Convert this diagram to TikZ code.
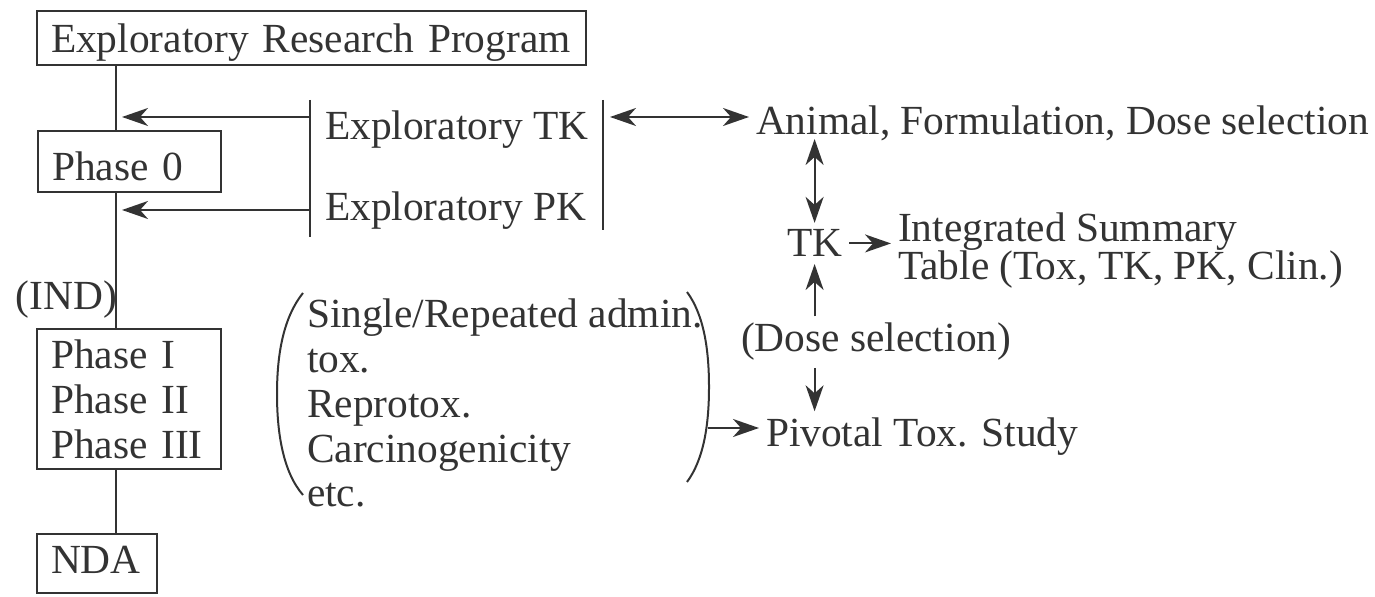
\documentclass[tikz,border=0pt]{standalone}
\usepackage{fontspec}
\setmainfont{Liberation Serif}
\usetikzlibrary{arrows.meta}
\definecolor{ink}{HTML}{333333}

\begin{document}
\begin{tikzpicture}[x=0.5pt,y=-0.5pt,line width=1pt,color=ink,
    font=\fontsize{20.7pt}{22.5pt}\selectfont,
    box/.style={draw,anchor=north west,inner xsep=7pt,inner ysep=0pt,align=left},
    txt/.style={anchor=base west,inner sep=3pt,align=left},
    arr/.style={-{Stealth[length=13pt,width=9pt,inset=4pt]}},
    dbl/.style={{Stealth[length=13pt,width=9pt,inset=4pt]}-{Stealth[length=13pt,width=9pt,inset=4pt]}}]
    \useasboundingbox (0,0) rectangle (1375,597);

    % Left column
    \coordinate (spine) at (116,0);
    \node[box,text width=260.5pt,text height=21pt,text depth=6pt] (erp) at (36,10) {Exploratory Research Program};
    \node[box,text width=77.5pt,text height=25pt,text depth=5.5pt] (ph0) at (37,130) {Phase 0};
    \node[txt] (ind) at (9,310) {(IND)};
    \node[box,text width=78pt,minimum height=70pt] (phases) at (36,328) {Phase I\\Phase II\\Phase III};
    \node[box,text width=46pt,text height=20pt,text depth=9.5pt] (nda) at (36,533) {NDA};

    % Exploratory studies
    \node[txt] (etk) at (318,140) {Exploratory TK};
    \node[txt] (epk) at (318,221) {Exploratory PK};
    \coordinate (lbt) at (310,100);
    \coordinate (lbb) at (310,237);
    \coordinate (rbt) at (603,100);
    \coordinate (rbb) at (603,230);
    \coordinate (tkin) at (310,117);
    \coordinate (pkin) at (310,210);
    \coordinate (tkout) at (603,117);

    % Right side
    \node[txt] (animal) at (749,135) {Animal, Formulation, Dose selection};
    \node[txt] (tk) at (780,257) {TK};
    \node[txt,font=\fontsize{20.7pt}{19pt}\selectfont] (ist) at (891,280) {Integrated Summary\\Table (Tox, TK, PK, Clin.)};
    \node[txt] (dosesel) at (734,352) {(Dose selection)};
    \node[txt] (pivotal) at (759,447) {Pivotal Tox. Study};

    % Toxicity studies in parentheses
    \node[txt,font=\fontsize{20.7pt}{22.4pt}\selectfont] (studies) at (300,507) {Single/Repeated admin.\\tox.\\Reprotox.\\Carcinogenicity\\etc.};
    \draw (303,293) .. controls (283,318) and (277,355) .. (277,394) .. controls (277,433) and (283,472) .. (303,495);
    \draw (687,292) .. controls (704,315) and (709,350) .. (709,387) .. controls (709,424) and (704,459) .. (687,482);
    \coordinate (rpar) at (708,428);

    % Edges
    \draw (erp.south -| spine) -- (ph0.north -| spine);
    \draw (ph0.south -| spine) -- (phases.north -| spine);
    \draw (phases.south -| spine) -- (nda.north -| spine);
    \draw (lbt) -- (lbb);
    \draw (rbt) -- (rbb);
    \draw[arr,shorten >=3pt] (tkin) -- (tkin -| spine);
    \draw[arr,shorten >=3pt] (pkin) -- (pkin -| spine);
    \draw[dbl,shorten <=3.5pt] (tkout) -- (tkout -| animal.west);
    \draw[dbl] ([yshift=-2pt]animal.base -| tk.north) -- (tk.north);
    \draw[arr] (tk.east) -- (tk.east -| ist.west);
    \draw[arr] (dosesel.north -| tk.north) -- (tk.south);
    \draw[arr] (dosesel.south -| tk.north) -- (pivotal.north -| tk.north);
    \draw[arr] (rpar) -- (rpar -| pivotal.west);
\end{tikzpicture}
\end{document}
